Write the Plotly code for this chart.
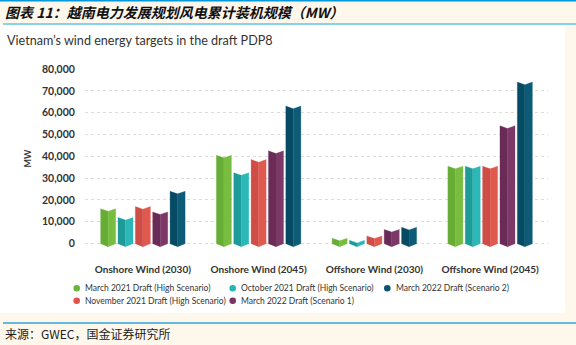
import plotly.graph_objects as go

# ---------------- data ----------------
categories = ["Onshore Wind (2030)", "Onshore Wind (2045)",
              "Offshore Wind (2030)", "Offshore Wind (2045)"]
series_names = ["March 2021 Draft (High Scenario)",
                "October 2021 Draft (High Scenario)",
                "November 2021 Draft (High Scenario)",
                "March 2022 Draft (Scenario 1)",
                "March 2022 Draft (Scenario 2)"]
march_2021 = [16000, 40500, 2500, 35500]
october_2021 = [12000, 32500, 1500, 35500]
november_2021 = [17000, 38500, 3500, 35500]
march_2022_s1 = [14500, 42500, 6500, 54000]
march_2022_s2 = [24000, 63000, 7500, 74000]
y_ticks = [0, 10000, 20000, 30000, 40000, 50000, 60000, 70000, 80000]

series_values = [march_2021, october_2021, november_2021, march_2022_s1, march_2022_s2]

# ---------------- styles ----------------
left_cols = ["#67ad35", "#1d9b99", "#cf4d47", "#6a2c57", "#064b64"]
right_cols = ["#78bd3f", "#2bb8b6", "#e0594f", "#7c3867", "#0d5b77"]
legend_cols = ["#6cb53b", "#2ab5b3", "#e0524c", "#7a3463", "#0b5470"]

W, H = 576, 345
ml, mr, mt, mb = 85, 28, 69, 97
pw, ph = W - ml - mr, H - mt - mb


def pxx(x):
    return (x - ml) / pw


def pxy(y):
    return (H - mb - y) / ph


slot = 0.15
half_w = 0.065
notch = 1200
point = 1400

fig = go.Figure()
for i, vals in enumerate(series_values):
    off = (i - 2) * slot
    lx, ly, rx, ry = [], [], [], []
    for gi, v in enumerate(vals):
        c = gi + off
        lx += [c - half_w, c - half_w, c, c, c - half_w, None]
        ly += [0, v, v - notch, -point, 0, None]
        rx += [c, c, c + half_w, c + half_w, c, None]
        ry += [-point, v - notch, v, 0, -point, None]
    fig.add_trace(go.Scatter(x=lx, y=ly, mode="lines", fill="toself",
                             fillcolor=left_cols[i],
                             line=dict(width=0.3, color=left_cols[i]),
                             showlegend=False, hoverinfo="skip"))
    fig.add_trace(go.Scatter(x=rx, y=ry, mode="lines", fill="toself",
                             fillcolor=right_cols[i],
                             line=dict(width=0.3, color=right_cols[i]),
                             showlegend=False, hoverinfo="skip"))

shapes = [
    dict(type="rect", xref="paper", yref="paper", x0=pxx(0), x1=pxx(565),
         y0=pxy(313), y1=pxy(25), fillcolor="white", line=dict(width=0), layer="below"),
    dict(type="line", xref="paper", yref="paper", x0=pxx(0), x1=pxx(576),
         y0=pxy(0.8), y1=pxy(0.8), line=dict(color="#0098da", width=1.6)),
    dict(type="line", xref="paper", yref="paper", x0=pxx(3), x1=pxx(576),
         y0=pxy(24), y1=pxy(24), line=dict(color="#5ec4ee", width=1.5)),
    dict(type="line", xref="paper", yref="paper", x0=pxx(3), x1=pxx(576),
         y0=pxy(323), y1=pxy(323), line=dict(color="#2ea3dc", width=1.5)),
]

annotations = [
    dict(text="图表 11：越南电力发展规划风电累计装机规模（MW）", x=pxx(3), y=pxy(12),
         xref="paper", yref="paper", xanchor="left", yanchor="middle", showarrow=False,
         font=dict(family="Noto Sans CJK SC", size=14, color="#111", weight="bold", style="italic")),
    dict(text="Vietnam’s wind energy targets in the draft PDP8", x=pxx(5), y=pxy(41),
         xref="paper", yref="paper", xanchor="left", yanchor="middle", showarrow=False,
         font=dict(family="Lato", size=12.6, color="#333")),
    dict(text="来源：GWEC，国金证券研究所", x=pxx(3), y=pxy(333),
         xref="paper", yref="paper", xanchor="left", yanchor="middle", showarrow=False,
         font=dict(family="Noto Sans CJK SC", size=12, color="#222")),
]

# manual legend (layout positions)
legend_slots = [(0, 76.7, 288.3), (1, 232.7, 288.3), (4, 387.3, 288.3),
                (2, 76.7, 300.7), (3, 232.7, 300.7)]
r = 3.3
for si, cx, cy in legend_slots:
    shapes.append(dict(type="circle", xref="paper", yref="paper",
                       x0=pxx(cx - r), x1=pxx(cx + r), y0=pxy(cy + r), y1=pxy(cy - r),
                       fillcolor=legend_cols[si], line=dict(width=0)))
    annotations.append(dict(text=series_names[si], x=pxx(cx + 6.5), y=pxy(cy),
                            xref="paper", yref="paper", xanchor="left", yanchor="middle",
                            showarrow=False,
                            font=dict(family="Lato", size=8.5, color="#333")))

fig.update_layout(
    width=W, height=H,
    margin=dict(l=ml, r=mr, t=mt, b=mb),
    paper_bgcolor="#fef8ec",
    plot_bgcolor="rgba(0,0,0,0)",
    showlegend=False,
    shapes=shapes,
    annotations=annotations,
    xaxis=dict(range=[-0.5, 3.5], tickmode="array", tickvals=list(range(len(categories))),
               ticktext=categories, showgrid=False, zeroline=False, showline=False,
               ticks="outside", ticklen=12, tickcolor="rgba(0,0,0,0)",
               tickfont=dict(family="Lato", size=10, color="#333", weight="bold"),
               fixedrange=True),
    yaxis=dict(range=[-2000, 80000], tickmode="array", tickvals=y_ticks,
               tickformat=",d", showgrid=True, gridcolor="#dcdcdc", griddash="dot",
               gridwidth=1, zeroline=False, showline=False,
               ticks="outside", ticklen=7, tickcolor="rgba(0,0,0,0)",
               tickfont=dict(family="Lato", size=10.5, color="#333", weight="bold"),
               title=dict(text="MW", standoff=8,
                          font=dict(family="Lato", size=9, color="#333", weight="bold")),
               fixedrange=True),
)

fig.write_html("out.html", config={"displayModeBar": False})
